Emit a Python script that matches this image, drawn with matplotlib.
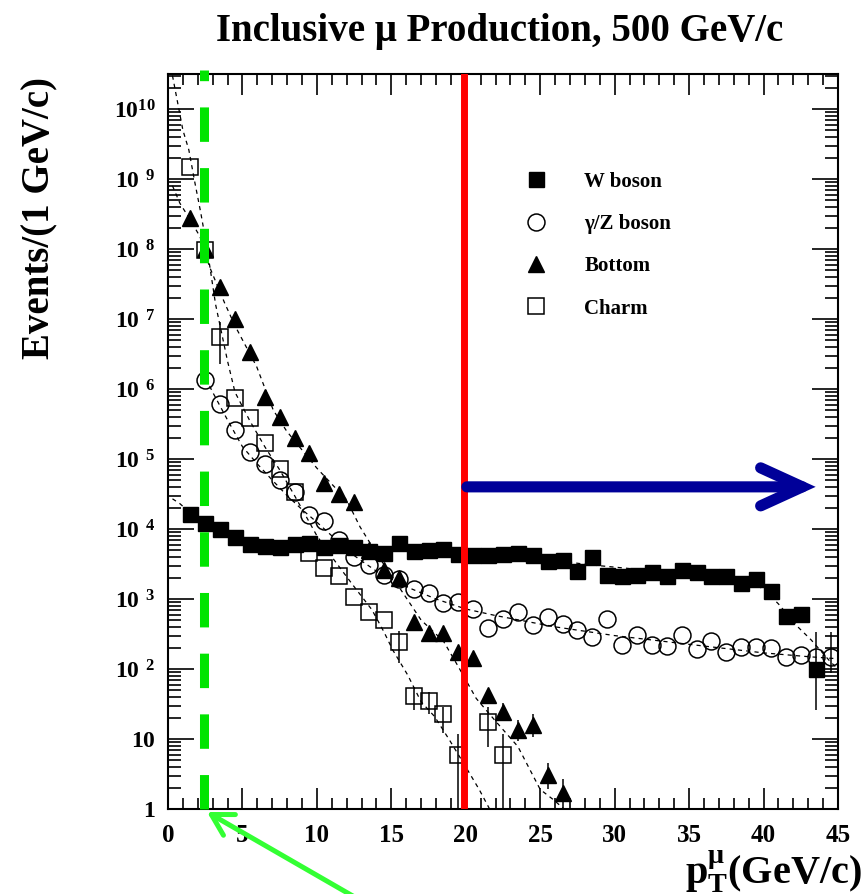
import numpy as np
import matplotlib
matplotlib.use('Agg')
import matplotlib.pyplot as plt
from matplotlib.ticker import FixedLocator, FixedFormatter, MultipleLocator, LogLocator, NullFormatter

plt.rcParams['font.family'] = ['Liberation Serif', 'DejaVu Serif']
plt.rcParams['font.weight'] = 'bold'
plt.rcParams['mathtext.fontset'] = 'custom'
plt.rcParams['mathtext.rm'] = 'Liberation Serif:bold'
plt.rcParams['mathtext.bf'] = 'Liberation Serif:bold'
plt.rcParams['mathtext.it'] = 'Liberation Serif:bold'
plt.rcParams['lines.scale_dashes'] = False

# W boson (filled squares), bins 1.5 .. 43.5
w_x = np.arange(1.5, 44.0, 1.0)
w_y = [1.63e4, 1.2e4, 1.0e4, 7.6e3, 6.1e3, 5.8e3, 5.5e3, 6.1e3, 6.3e3, 5.6e3,
       5.9e3, 5.5e3, 4.9e3, 4.6e3, 6.3e3, 4.9e3, 5.0e3, 5.2e3, 4.4e3, 4.3e3,
       4.2e3, 4.4e3, 4.6e3, 4.2e3, 3.5e3, 3.6e3, 2.5e3, 4.0e3, 2.2e3, 2.1e3,
       2.2e3, 2.4e3, 2.1e3, 2.6e3, 2.4e3, 2.1e3, 2.1e3, 1.7e3, 1.9e3, 1.3e3,
       5.7e2, 6.1e2, 1.0e2]

# gamma/Z boson (open circles), bins 2.5 .. 44.5
z_x = np.arange(2.5, 45.0, 1.0)
z_y = [1.35e6, 6.1e5, 2.6e5, 1.27e5, 8.5e4, 5.0e4, 3.4e4, 1.6e4, 1.3e4, 7.0e3,
       4.0e3, 3.1e3, 2.2e3, 1.9e3, 1.4e3, 1.2e3, 870, 920, 720, 380,
       520, 660, 425, 560, 440, 360, 290, 510, 220, 305,
       220, 210, 305, 190, 250, 177, 204, 204, 199, 150,
       160, 150, 150]

# Bottom (filled triangles), bins 1.5 .. 26.5
b_x = np.arange(1.5, 27.0, 1.0)
b_y = [2.8e8, 1.0e8, 2.9e7, 1.0e7, 3.4e6, 7.7e5, 4.0e5, 2.0e5, 1.2e5, 4.5e4,
       3.2e4, 2.4e4, 5.0e3, 2.6e3, 2.0e3, 475, 325, 330, 177, 142,
       42, 24.5, 13.5, 15.8, 3.1, 1.7]

# Charm (open squares)
c_x = [1.5, 2.5, 3.5, 4.5, 5.5, 6.5, 7.5, 8.5, 9.5, 10.5, 11.5, 12.5, 13.5,
       14.5, 15.5, 16.5, 17.5, 18.5, 19.5, 21.5, 22.5]
c_y = [1.5e9, 9.7e7, 5.6e6, 7.4e5, 3.8e5, 1.7e5, 7.1e4, 3.4e4, 4.5e3, 2.8e3,
       2.1e3, 1.07e3, 660, 500, 240, 41, 35, 23, 5.9, 17.6, 5.9]

# error bars that are visible
c_err_x = [3.5, 15.5, 16.5, 17.5, 18.5, 19.5, 21.5, 22.5]
c_err_y = [5.6e6, 240, 41, 35, 23, 5.9, 17.6, 5.9]
c_err_lo = [3.3e6, 120, 15, 12, 11, 5.85, 10, 5.85]
c_err_hi = [3.5e6, 114, 15, 12, 6, 6, 11, 6]
b_err_x = [22.5, 23.5, 24.5, 25.5, 26.5]
b_err_y = [24.5, 13.5, 15.8, 3.1, 1.7]
b_err_lo = [6, 4, 5, 1.2, 1.69]
b_err_hi = [8, 5, 7, 1.5, 1.0]
w_err_x = [43.5]
w_err_y = [100]
w_err_lo = [74]
w_err_hi = [239]
z_err_x = [44.5]
z_err_y = [150]
z_err_lo = [62]
z_err_hi = [190]

# dashed fit curves (knots)
cf_x = [0.3, 1.0, 1.4, 1.8, 2.2, 2.6, 3.2, 4.0, 4.5, 5.5, 6.5, 7.5, 8.5, 10.0,
        11.0, 12.4, 13.7, 14.5, 15.1, 16.1, 17.0, 17.9, 18.9, 19.8, 20.9, 21.6]
cf_y = [3e10, 5e9, 2.6e9, 9e8, 3.3e8, 1.1e8, 1.6e7, 2.5e6, 9e5, 3.5e5, 1.5e5,
        7e4, 3e4, 8e3, 4e3, 1.6e3, 700, 340, 186, 82, 34, 21, 9.7, 4.7, 1.9, 1.0]
bf_x = [0.3, 0.8, 1.5, 2.15, 2.8, 3.8, 4.5, 5.95, 7.07, 7.97, 10.0, 12.0, 12.9,
        14.0, 15.5, 17.0, 18.5, 19.5, 20.7, 22.0, 23.5, 25.0, 25.9, 26.6]
bf_y = [8e8, 4.5e8, 2.6e8, 1.5e8, 5.5e7, 1.7e7, 8e6, 2.1e6, 5e5, 2.5e5, 7.4e4,
        2.6e4, 1.07e4, 4.5e3, 1.5e3, 500, 250, 108, 38, 18, 7.8, 1.9, 1.35, 1.0]
zf_x = [2.3, 3.0, 4.0, 5.0, 6.0, 7.0, 8.0, 9.0, 10.0, 11.0, 12.0, 13.0, 14.0,
        16.0, 18.0, 20.0, 22.0, 26.0, 30.0, 35.0, 40.0, 43.0, 45.0]
zf_y = [1.8e6, 9e5, 3.6e5, 1.5e5, 8.5e4, 5e4, 3e4, 1.9e4, 1.25e4, 8e3, 5e3,
        3.5e3, 2.5e3, 1.5e3, 1.0e3, 720, 580, 400, 300, 225, 170, 150, 140]
wf_x = [0.3, 0.8, 1.5, 2.5, 3.5, 4.5, 5.5, 7.0, 10.0, 15.0, 20.0, 25.0, 28.2,
        32.0, 36.0, 38.5, 40.0, 41.0, 42.3, 43.2, 44.5, 45.0]
wf_y = [2.7e4, 2.3e4, 1.7e4, 1.25e4, 9.5e3, 7.5e3, 6.5e3, 6e3, 5.8e3, 5.3e3,
        4.6e3, 3.8e3, 3.1e3, 2.6e3, 2.2e3, 1.9e3, 1.4e3, 850, 400, 260, 126, 100]

legend_labels = ['W boson', 'γ/Z boson', 'Bottom', 'Charm']
x_ticks = [0, 5, 10, 15, 20, 25, 30, 35, 40, 45]
y_exponents = list(range(0, 11))

fig = plt.figure(figsize=(8.65, 8.94), dpi=100)
ax = fig.add_axes([168/865, 85/894, 670/865, 735/894])
ax.set_yscale('log')
ax.set_xlim(0, 45)
ax.set_ylim(1, 10**10.5)

for fx, fy in [(cf_x, cf_y), (bf_x, bf_y), (zf_x, zf_y), (wf_x, wf_y)]:
    ax.plot(fx, fy, color='k', lw=0.9, dashes=(3, 3), zorder=2)

ax.errorbar(c_err_x, c_err_y, yerr=[c_err_lo, c_err_hi], fmt='none', ecolor='k', elinewidth=1.1, zorder=3)
ax.errorbar(b_err_x, b_err_y, yerr=[b_err_lo, b_err_hi], fmt='none', ecolor='k', elinewidth=1.1, zorder=3)
ax.errorbar(w_err_x, w_err_y, yerr=[w_err_lo, w_err_hi], fmt='none', ecolor='k', elinewidth=1.1, zorder=3)
ax.errorbar(z_err_x, z_err_y, yerr=[z_err_lo, z_err_hi], fmt='none', ecolor='k', elinewidth=1.1, zorder=3)

h_c, = ax.plot(c_x, c_y, 's', ms=12.2, mfc='none', mec='k', mew=1.1, zorder=4)
h_z, = ax.plot(z_x, z_y, 'o', ms=12.2, mfc='none', mec='k', mew=1.1, zorder=4)
h_b, = ax.plot(b_x, b_y, '^', ms=12, color='k', zorder=5)
h_w, = ax.plot(w_x, w_y, 's', ms=10.8, color='k', zorder=6)

# vertical markers
ax.axvline(2.45, ymin=0, ymax=1.0054, color='#00e400', lw=6.5, dashes=(24.8, 18.9), clip_on=False, zorder=7)
ax.axvline(19.85, ymin=0.005, ymax=1.0, color='#ff0000', lw=5, zorder=7)

# arrows
ax.annotate('', xy=(43.5, 4.0e4), xytext=(20.07, 4.0e4),
            arrowprops=dict(arrowstyle='->,head_length=30,head_width=13.7', mutation_scale=1,
                            color='#000099', lw=8, shrinkA=0, shrinkB=0,
                            capstyle='round', joinstyle='miter'), zorder=8)
ax.annotate('', xy=(207, 82), xytext=(358, -5), xycoords='figure pixels', textcoords='figure pixels',
            arrowprops=dict(arrowstyle='->,head_length=15,head_width=8.6', mutation_scale=1,
                            color='#33ff33', lw=3.6, shrinkA=0, shrinkB=0,
                            capstyle='round', joinstyle='round'),
            annotation_clip=False, zorder=8)

# axes styling
for s in ax.spines.values():
    s.set_linewidth(1.5)
ax.xaxis.set_major_locator(FixedLocator(x_ticks))
ax.xaxis.set_minor_locator(MultipleLocator(1))
ax.set_xticklabels([str(t) for t in x_ticks], fontsize=18, fontweight='bold')
ax.yaxis.set_major_locator(FixedLocator([10.0**n for n in y_exponents]))
ax.yaxis.set_minor_locator(LogLocator(base=10, subs=range(2, 10), numticks=30))
ax.yaxis.set_minor_formatter(NullFormatter())
ylabels = []
for n in y_exponents:
    if n == 0:
        ylabels.append(r'$\mathbf{1}\hspace{1.05}$')
    elif n == 1:
        ylabels.append(r'$\mathbf{10}\hspace{1.05}$')
    elif n < 10:
        ylabels.append(r'$\mathbf{10}^{\hspace{0.5}\mathbf{%d}}$' % n)
    else:
        ylabels.append(r'$\mathbf{10}^{\mathbf{%d}}$' % n)
ax.yaxis.set_major_formatter(FixedFormatter(ylabels))
ax.tick_params(which='both', direction='in', top=True, right=True, width=1.2)
ax.tick_params(axis='x', which='major', length=15, pad=11)
ax.tick_params(axis='x', which='minor', length=8)
ax.tick_params(axis='y', which='major', length=19, pad=9, labelsize=17)
ax.tick_params(axis='y', which='minor', length=9.5)

leg = ax.legend([h_w, h_z, h_b, h_c], legend_labels, loc='upper left',
                bbox_to_anchor=(0.525, 0.867), frameon=False, fontsize=15,
                borderpad=0, borderaxespad=0, handlelength=1.6,
                handletextpad=1.5, labelspacing=1.07)
for t in leg.get_texts():
    t.set_fontweight('bold')

fig.text(0.578, 1 - 31/894, 'Inclusive μ Production, 500 GeV/c', ha='center', va='center',
         fontsize=28, fontweight='bold')
fig.text(40/865, 1 - 218/894, 'Events/(1 GeV/c)', rotation=90, ha='center', va='center',
         fontsize=28, fontweight='bold')
fig.text(862/865, 1 - 872/894, r'$\mathbf{p}_{\mathbf{T}}^{\mu}$(GeV/c)', ha='right', va='center',
         fontsize=29, fontweight='bold')

fig.savefig('out.png', dpi=100)
